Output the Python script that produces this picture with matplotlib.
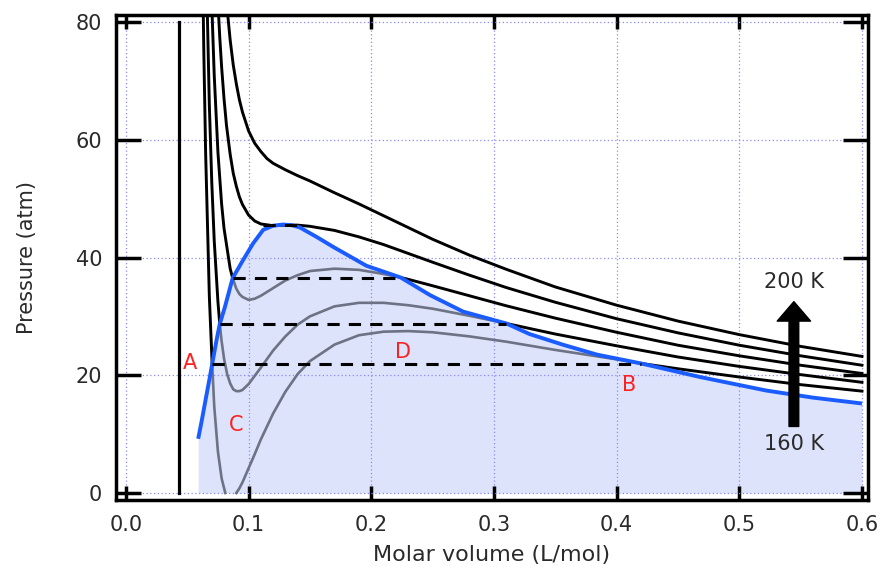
import numpy as np
import matplotlib
matplotlib.use("Agg")
import matplotlib.pyplot as plt

plt.rcParams['font.family'] = ['DejaVu Sans']

# ----------------------------------------------------------
#  data (molar volume L/mol, pressure atm)
# ----------------------------------------------------------
v_200 = [0.062, 0.065, 0.068, 0.07, 0.072, 0.075, 0.078, 0.08, 0.082, 0.085, 0.0875, 0.09,
         0.0925, 0.095, 0.1, 0.105, 0.11, 0.115, 0.12, 0.13, 0.14, 0.15, 0.17, 0.19, 0.21,
         0.23, 0.25, 0.28, 0.31, 0.35, 0.40, 0.45, 0.50, 0.55, 0.60]
p_200 = [267.8, 205.3, 163.6, 143.1, 127.1, 108.9, 95.7, 88.9, 83.4, 76.9, 72.7, 69.5,
         66.8, 64.7, 61.5, 59.4, 58.0, 56.8, 56.0, 54.9, 53.9, 53.0, 51.0, 49.1, 47.1,
         45.1, 43.1, 40.4, 38.0, 35.0, 31.9, 29.2, 26.9, 24.9, 23.2]

v_190 = [0.062, 0.065, 0.068, 0.07, 0.072, 0.075, 0.0765, 0.078, 0.08, 0.082, 0.085, 0.0875,
         0.09, 0.0925, 0.095, 0.1, 0.105, 0.11, 0.12, 0.13, 0.14, 0.15, 0.17, 0.19, 0.21,
         0.23, 0.25, 0.28, 0.31, 0.35, 0.40, 0.45, 0.50, 0.55, 0.60]
p_190 = [225.1, 168.4, 131.0, 113.0, 99.0, 83.4, 77.4, 72.4, 66.9, 62.4, 57.5, 54.3,
         52.1, 50.3, 49.0, 47.2, 46.2, 45.7, 45.4, 45.5, 45.5, 45.3, 44.6, 43.5, 42.2,
         40.7, 39.2, 37.0, 34.9, 32.4, 29.6, 27.2, 25.1, 23.3, 21.7]

v_180 = [0.062, 0.065, 0.068, 0.07, 0.072, 0.075, 0.078, 0.08, 0.085, 0.087, 0.09, 0.0925,
         0.095, 0.1, 0.105, 0.11, 0.12, 0.13, 0.14, 0.15, 0.17, 0.19, 0.21, 0.224, 0.23,
         0.25, 0.28, 0.31, 0.35, 0.40, 0.45, 0.50, 0.55, 0.60]
p_180 = [182.4, 131.5, 98.5, 82.9, 70.9, 57.9, 49.1, 44.9, 38.1, 36.5, 34.7, 33.8,
         33.3, 32.8, 33.0, 33.5, 34.8, 36.1, 37.0, 37.7, 38.1, 37.9, 37.2, 36.6, 36.3,
         35.2, 33.5, 31.8, 29.7, 27.3, 25.1, 23.3, 21.7, 20.3]

v_170 = [0.062, 0.065, 0.068, 0.07, 0.072, 0.075, 0.0765, 0.078, 0.08, 0.0825, 0.085, 0.0875,
         0.09, 0.0925, 0.095, 0.1, 0.11, 0.12, 0.13, 0.14, 0.15, 0.17, 0.19, 0.21, 0.23,
         0.25, 0.28, 0.31, 0.35, 0.40, 0.45, 0.50, 0.55, 0.60]
p_170 = [139.7, 94.5, 65.9, 52.7, 42.8, 32.5, 28.7, 25.8, 22.8, 20.2, 18.6, 17.6,
         17.3, 17.3, 17.5, 18.5, 21.3, 24.2, 26.6, 28.6, 30.0, 31.7, 32.3, 32.3, 31.9,
         31.3, 30.1, 28.8, 27.0, 25.0, 23.1, 21.5, 20.1, 18.8]

v_160 = [0.062, 0.0635, 0.065, 0.068, 0.0703, 0.072, 0.075, 0.078, 0.081, 0.085, 0.09,
         0.0925, 0.095, 0.1, 0.105, 0.11, 0.12, 0.13, 0.14, 0.15, 0.17, 0.19, 0.21, 0.23,
         0.25, 0.28, 0.31, 0.35, 0.40, 0.42, 0.45, 0.50, 0.55, 0.60]
p_160 = [97.0, 74.9, 57.6, 33.4, 21.9, 14.7, 7.0, 2.5, 0.0, np.nan, 0.0,
         0.8, 1.8, 4.2, 6.6, 9.1, 13.5, 17.2, 20.2, 22.4, 25.2, 26.8, 27.4, 27.5,
         27.3, 26.6, 25.7, 24.3, 22.7, 22.0, 21.1, 19.7, 18.4, 17.3]

# liquid / gas volumes where each isotherm meets the blue boundary, and tie-line pressure
tie_180 = (0.087, 0.224, 36.5)
tie_170 = (0.0765, 0.31, 28.7)
tie_160 = (0.0703, 0.42, 21.9)
tie_crit = (0.112, 0.143, 45.5)

# coexistence boundary (blue)
v_blue = [0.0589, 0.062, 0.065, 0.0685, 0.0703, 0.0739, 0.0765, 0.0807, 0.087, 0.0956,
          0.1037, 0.1119, 0.12, 0.128, 0.135, 0.1418, 0.1554, 0.169, 0.196, 0.224, 0.248,
          0.275, 0.31, 0.329, 0.356, 0.384, 0.42, 0.468, 0.522, 0.56, 0.60]
p_blue = [9.2, 12.5, 15.9, 19.8, 21.9, 26.0, 28.7, 31.6, 36.5, 39.6,
          42.4, 44.7, 45.4, 45.6, 45.5, 45.1, 43.5, 41.8, 38.6, 36.6, 33.6,
          30.8, 28.8, 27.0, 25.2, 23.5, 22.0, 19.7, 17.4, 16.2, 15.2]

b_volume = 0.043

etiquetas = ["A", "B", "C", "D"]
etiq_v = [0.0522, 0.410, 0.090, 0.2255]
etiq_p = [22.0, 18.3, 11.5, 24.0]

gris = "#6d7384"
azul = "#1a5cff"
relleno = "#dde3fa"
texto = "#2a2a2a"


def trazar_isoterma(ax, v, p, tie=None):
    v = np.array(v)
    p = np.array(p)
    if tie is None:
        ax.plot(v, p, color="black", lw=2.1, zorder=2)
        return
    vl, vg, _ = tie
    izq = v <= vl
    der = v >= vg
    med = (v >= vl) & (v <= vg)
    ax.plot(v[izq], p[izq], color="black", lw=2.1, zorder=2)
    ax.plot(v[der], p[der], color="black", lw=2.1, zorder=2)
    ax.plot(v[med], p[med], color=gris, lw=1.9, zorder=2)


fig = plt.figure(figsize=(8.82, 5.69), dpi=100)
ax = fig.add_axes([0.1315, 0.1213, 0.8526, 0.8523])

ax.fill_between(v_blue, p_blue, 0, color=relleno, lw=0, zorder=0.2)

ax.plot([b_volume, b_volume], [0, 80], color="black", lw=2.3, zorder=2)

trazar_isoterma(ax, v_200, p_200)
trazar_isoterma(ax, v_190, p_190)
trazar_isoterma(ax, v_180, p_180, tie_180)
trazar_isoterma(ax, v_170, p_170, tie_170)
trazar_isoterma(ax, v_160, p_160, tie_160)

ax.plot(v_blue, p_blue, color=azul, lw=2.8, zorder=3, solid_capstyle="butt")

for vl, vg, pt in [tie_180, tie_170, tie_160, tie_crit]:
    ax.plot([vl, vg], [pt, pt], color="black", lw=2.2, ls=(0, (4, 3)), zorder=4)

for t, x, y in zip(etiquetas, etiq_v, etiq_p):
    ax.text(x, y, t, color="#ff2020", fontsize=15, ha="center", va="center", zorder=5)

ax.annotate("", xy=(0.5445, 32.5), xytext=(0.5445, 11.3),
            arrowprops=dict(facecolor="black", edgecolor="black", width=7,
                            headwidth=24, headlength=14, shrink=0), zorder=5)
ax.text(0.545, 35.9, "200 K", fontsize=15, color=texto, ha="center", va="center")
ax.text(0.545, 8.4, "160 K", fontsize=15, color=texto, ha="center", va="center")

ax.set_xlim(-0.0081, 0.6049)
ax.set_ylim(-1.19, 81.19)
ax.set_xticks([0.0, 0.1, 0.2, 0.3, 0.4, 0.5, 0.6])
ax.set_xticklabels(["0.0", "0.1", "0.2", "0.3", "0.4", "0.5", "0.6"])
ax.set_yticks([0, 20, 40, 60, 80])

ax.set_axisbelow(True)
ax.grid(True, color="#8a8aff", lw=0.9, ls=(0, (1, 2)))

for s in ax.spines.values():
    s.set_linewidth(2.5)
ax.tick_params(axis="both", which="major", direction="in", width=2.5,
               labelsize=15, labelcolor=texto, top=True, right=True)
ax.tick_params(axis="y", length=18, pad=10)
ax.tick_params(axis="x", length=10, pad=11)

ax.set_xlabel("Molar volume (L/mol)", fontsize=16, color=texto, labelpad=7)
ax.set_ylabel("Pressure (atm)", fontsize=15, color=texto, labelpad=28)

fig.savefig("out.png", dpi=100)
